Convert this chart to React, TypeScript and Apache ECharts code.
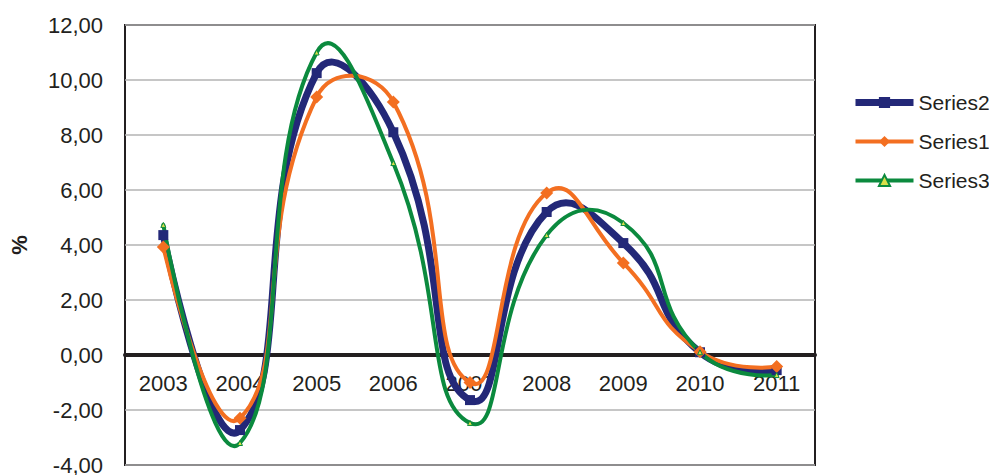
import React, { useEffect, useRef } from "react";
import * as echarts from "echarts";

const years = ["2003", "2004", "2005", "2006", "2007", "2008", "2009", "2010", "2011"];
const series2 = [4.36, -2.73, 10.25, 8.1, -1.64, 5.2, 4.07, 0.1, -0.55];
const series1 = [3.93, -2.3, 9.38, 9.2, -1.0, 5.89, 3.35, 0.12, -0.42];
const series3 = [4.73, -3.2, 11.0, 6.98, -2.47, 4.36, 4.8, 0.1, -0.73];

const FONT = "'Liberation Sans', Arial, sans-serif";
const TXT = "#231f20";
const NAVY = "#232878";
const ORANGE = "#f36f21";
const GREEN = "#0b8a3e";
const SMOOTH = 0.53;

function curve(name: string, values: number[], color: string, width: number) {
  return {
    type: "custom",
    name: name + "-curve",
    silent: true,
    data: values.map((v, i) => [i, v]),
    encode: { x: 0, y: 1 },
    renderItem: (params: any, api: any) => {
      if (params.dataIndex !== 0) return null;
      const pts = values.map((v, i) => api.coord([i, v]));
      return {
        type: "polyline",
        shape: { points: pts, smooth: SMOOTH },
        style: { stroke: color, lineWidth: width, fill: null, lineJoin: "round", lineCap: "round" },
      };
    },
    z: 2,
  };
}

function markers(name: string, values: number[], color: string, symbol: string, size: number, extra: any = {}) {
  return {
    type: "line",
    name,
    data: values,
    symbol,
    symbolSize: size,
    showSymbol: true,
    lineStyle: { opacity: 0, color, width: 0 },
    itemStyle: { color, ...extra },
    z: 2,
  };
}

export default function App() {
  const ref = useRef<HTMLDivElement>(null);
  useEffect(() => {
    if (!ref.current) return;
    const chart = echarts.init(ref.current, undefined, { renderer: "svg" });
    chart.setOption({
      animation: false,
      backgroundColor: "#ffffff",
      grid: {
        left: 125,
        right: 174,
        top: 25,
        bottom: 10,
        show: true,
        borderColor: TXT,
        borderWidth: 2,
        outerBoundsMode: "none",
        containLabel: false,
      },
      legend: {
        orient: "vertical",
        left: 852,
        top: 92,
        padding: 0,
        itemWidth: 58,
        itemHeight: 14,
        itemGap: 18,
        textStyle: { fontSize: 21, fontFamily: FONT, color: TXT },
        data: [
          { name: "Series2", lineStyle: { opacity: 1, width: 7, color: NAVY } },
          { name: "Series1", lineStyle: { opacity: 1, width: 4, color: ORANGE } },
          { name: "Series3", lineStyle: { opacity: 1, width: 4, color: GREEN } },
        ],
      },
      xAxis: {
        type: "category",
        data: years,
        boundaryGap: true,
        offset: -110,
        axisLine: { onZero: false, lineStyle: { color: TXT, width: 4 } },
        axisTick: { show: false },
        axisLabel: { fontSize: 22, fontFamily: FONT, color: TXT, margin: 17 },
      },
      yAxis: {
        type: "value",
        min: -4,
        max: 12,
        interval: 2,
        name: "%",
        nameLocation: "middle",
        nameGap: 95,
        nameTextStyle: { fontSize: 22, fontWeight: "bold", fontFamily: FONT, color: TXT },
        axisLine: { show: false },
        axisTick: { show: false },
        axisLabel: {
          fontSize: 22,
          fontFamily: FONT,
          color: TXT,
          margin: 22,
          formatter: (v: number) => v.toFixed(2).replace(".", ","),
        },
        splitLine: { lineStyle: { color: "#b3b3b3", width: 1.5 } },
      },
      series: [
        curve("Series2", series2, NAVY, 7),
        markers("Series2", series2, NAVY, "rect", 10),
        curve("Series1", series1, ORANGE, 4),
        markers("Series1", series1, ORANGE, "diamond", 13),
        curve("Series3", series3, GREEN, 4),
        markers("Series3", series3, "#d8e04a", "triangle", 5, { borderColor: GREEN, borderWidth: 1 }),
      ],
    });
    return () => chart.dispose();
  }, []);
  return (
    <div
      ref={ref}
      style={{ position: "fixed", left: 0, top: 0, width: 989, height: 475 }}
    />
  );
}
